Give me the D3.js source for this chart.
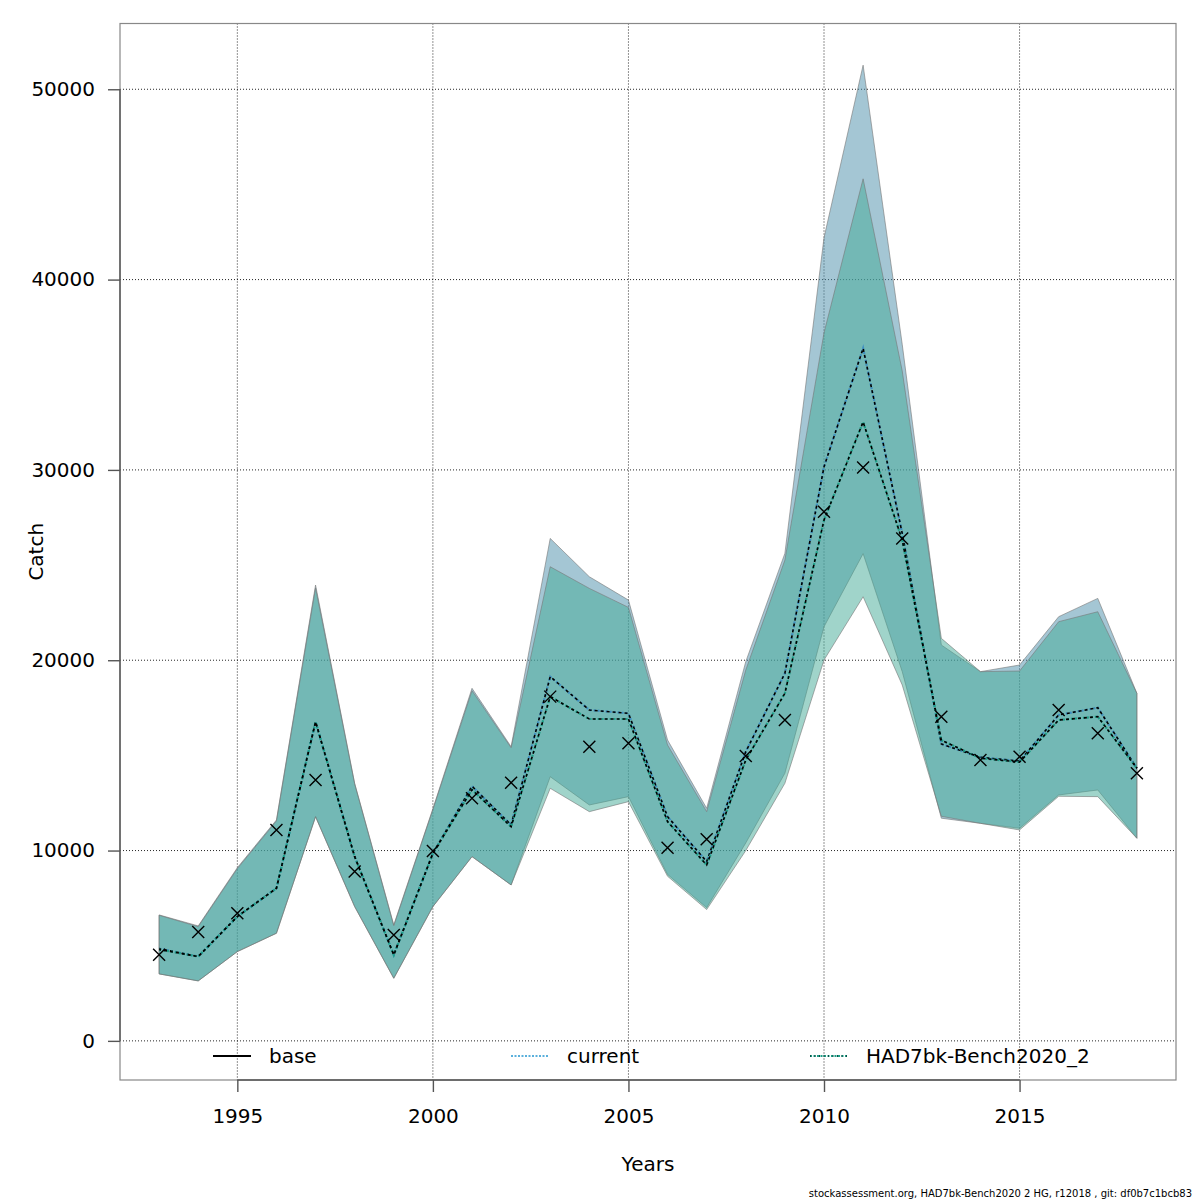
<!DOCTYPE html>
<html>
<head>
<meta charset="utf-8">
<script src="https://cdn.jsdelivr.net/npm/d3@7"></script>
<style>
    body { margin: 0; background: #fff; }
    text { font-family: "DejaVu Sans", sans-serif; fill: #000; }
</style>
</head>
<body>
<main></main>
<script>
// data
const years = [1993, 1994, 1995, 1996, 1997, 1998, 1999, 2000, 2001, 2002, 2003, 2004, 2005,
               2006, 2007, 2008, 2009, 2010, 2011, 2012, 2013, 2014, 2015, 2016, 2017, 2018]

const observed = [4520, 5725, 6706, 11082, 13708, 8893, 5567, 9979, 12745, 13566, 18088, 15457, 15634,
                  10153, 10593, 14968, 16859, 27800, 30130, 26400, 17035, 14758, 14934, 17384, 16160, 14060]

const currentMid = [4850, 4430, 6530, 8018, 16770, 9681, 4517, 9856, 13380, 11350, 19138, 17384, 17210,
                    11780, 9418, 15195, 19312, 30160, 36390, 26665, 15600, 14900, 14700, 17122, 17507, 14322]
const currentHigh = [6618, 6040, 9100, 11607, 23950, 13533, 6092, 12200, 18524, 15457, 26400, 24387, 23162,
                     15809, 12220, 19926, 25613, 42200, 51266, 36600, 20800, 19400, 19748, 22287, 23250, 18262]
const currentLow = [3519, 3151, 4690, 5655, 11780, 7055, 3291, 7055, 9681, 8193, 13881, 12395, 12833,
                    8745, 7000, 10400, 14060, 21760, 25600, 19400, 11700, 11430, 11170, 12920, 13183, 10646]

const benchMid = [4800, 4430, 6530, 8018, 16770, 9681, 4517, 9856, 13200, 11250, 18088, 16912, 16912,
                  11518, 9244, 14758, 18262, 27364, 32520, 26313, 15800, 14850, 14650, 16859, 17035, 14322]
const benchHigh = [6600, 6000, 9050, 11550, 23800, 13500, 6050, 12150, 18400, 15400, 24912, 23775, 22777,
                   15546, 12045, 19485, 25262, 37200, 45296, 35200, 21150, 19400, 19433, 22024, 22549, 18262]
const benchLow = [3519, 3151, 4690, 5655, 11780, 7055, 3291, 7055, 9681, 8193, 13270, 12044, 12570,
                  8650, 6900, 10000, 13533, 20010, 23336, 18700, 11800, 11430, 11083, 12850, 12833, 10646]

const xTicks = [1995, 2000, 2005, 2010, 2015]
const yTicks = [0, 10000, 20000, 30000, 40000, 50000]
const legendNames = ['base', 'current', 'HAD7bk-Bench2020_2']
const footer = 'stockassessment.org, HAD7bk-Bench2020 2 HG, r12018 , git: df0b7c1bcb83'

// sizes
const sizeOfSVG = { width: 1200, height: 1200 }
const box = { left: 120, right: 1176, top: 23.5, bottom: 1080 }

const svg = d3.select('main')
    .append('svg')
    .attr('width', sizeOfSVG.width)
    .attr('height', sizeOfSVG.height)

// scales (R style 4% padding)
const xScale = d3.scaleLinear().domain([1992, 2019]).range([box.left, box.right])
const yScale = d3.scaleLinear().domain([-2056, 53456]).range([box.bottom, box.top])

const rows = years.map((y, i) => ({
    year: y, obs: observed[i],
    cMid: currentMid[i], cHi: currentHigh[i], cLo: currentLow[i],
    bMid: benchMid[i], bHi: benchHigh[i], bLo: benchLow[i]
}))

// grid
svg.append('g').selectAll('line')
    .data(xTicks)
    .enter().append('line')
    .attr('x1', d => xScale(d)).attr('x2', d => xScale(d))
    .attr('y1', box.top).attr('y2', box.bottom)
    .attr('stroke', '#000').attr('stroke-width', 1)
    .attr('stroke-dasharray', '1,2').attr('opacity', 0.85)

svg.append('g').selectAll('line')
    .data(yTicks)
    .enter().append('line')
    .attr('x1', box.left).attr('x2', box.right)
    .attr('y1', d => yScale(d)).attr('y2', d => yScale(d))
    .attr('stroke', '#000').attr('stroke-width', 1)
    .attr('stroke-dasharray', '1,2').attr('opacity', 0.85)

// confidence bands
const band = (hi, lo) => d3.area()
    .x(d => xScale(d.year))
    .y0(d => yScale(d[lo]))
    .y1(d => yScale(d[hi]))

svg.append('path')
    .datum(rows)
    .attr('d', band('cHi', 'cLo'))
    .attr('fill', 'rgb(73,141,169)').attr('fill-opacity', 0.5)
    .attr('stroke', '#777').attr('stroke-opacity', 0.6).attr('stroke-width', 1)

svg.append('path')
    .datum(rows)
    .attr('d', band('bHi', 'bLo'))
    .attr('fill', 'rgb(65,169,149)').attr('fill-opacity', 0.5)
    .attr('stroke', '#777').attr('stroke-opacity', 0.6).attr('stroke-width', 1)

// estimate lines: coloured dotted line with black dashes on top
const midLine = key => d3.line()
    .x(d => xScale(d.year))
    .y(d => yScale(d[key]))

const drawMid = (key, colour) => {
    svg.append('path').datum(rows)
        .attr('d', midLine(key))
        .attr('fill', 'none').attr('stroke', colour).attr('stroke-width', 2.2)
        .attr('stroke-dasharray', '2,2')
    svg.append('path').datum(rows)
        .attr('d', midLine(key))
        .attr('fill', 'none').attr('stroke', '#000').attr('stroke-width', 1.6)
        .attr('stroke-dasharray', '3,3').attr('stroke-dashoffset', 1)
}
drawMid('cMid', '#3f8fc0')
drawMid('bMid', '#1fa088')

// observations
svg.append('g').selectAll('path')
    .data(rows)
    .enter().append('path')
    .attr('d', d => {
        const x = xScale(d.year), y = yScale(d.obs), r = 6
        return `M${x - r},${y - r}L${x + r},${y + r}M${x - r},${y + r}L${x + r},${y - r}`
    })
    .attr('stroke', '#000').attr('stroke-width', 1.4).attr('fill', 'none')

// box
svg.append('rect')
    .attr('x', box.left).attr('y', box.top)
    .attr('width', box.right - box.left).attr('height', box.bottom - box.top)
    .attr('fill', 'none').attr('stroke', '#888').attr('stroke-width', 1.2)

// axes
const xAxis = d3.axisBottom(xScale)
    .tickValues(xTicks).tickFormat(d3.format('d'))
    .tickSize(12).tickPadding(17)
const yAxis = d3.axisLeft(yScale)
    .tickValues(yTicks).tickFormat(d3.format('d'))
    .tickSize(12).tickPadding(13)

const gx = svg.append('g')
    .attr('transform', `translate(0,${box.bottom})`)
    .call(xAxis)
gx.select('.domain').remove()
gx.append('line')
    .attr('x1', xScale(xTicks[0])).attr('x2', xScale(xTicks[xTicks.length - 1]))
    .attr('stroke', '#555').attr('stroke-width', 1.4)

const gy = svg.append('g')
    .attr('transform', `translate(${box.left},0)`)
    .call(yAxis)
gy.select('.domain').remove()
gy.append('line')
    .attr('y1', yScale(yTicks[0])).attr('y2', yScale(yTicks[yTicks.length - 1]))
    .attr('stroke', '#555').attr('stroke-width', 1.4)

svg.selectAll('.tick line').attr('stroke', '#555').attr('stroke-width', 1.4)
svg.selectAll('.tick text')
    .style('font-family', '"DejaVu Sans", sans-serif')
    .style('font-size', '20px').attr('fill', '#000')

// axis labels
svg.append('text')
    .attr('x', (box.left + box.right) / 2)
    .attr('y', 1171)
    .attr('text-anchor', 'middle')
    .style('font-size', '20px')
    .text('Years')

svg.append('text')
    .attr('transform', `translate(43,${(box.top + box.bottom) / 2}) rotate(-90)`)
    .attr('text-anchor', 'middle')
    .style('font-size', '20px')
    .text('Catch')

// legend
const legendX = [213, 511, 810]
const legend = svg.append('g').selectAll('g')
    .data(legendNames)
    .enter().append('g')
    .attr('transform', (d, i) => `translate(${legendX[i]},1056)`)

legend.append('line')
    .attr('x1', 0).attr('x2', 38)
    .attr('stroke', (d, i) => ['#000', '#5ab0dc', '#1fa088'][i])
    .attr('stroke-width', 2)
    .attr('stroke-dasharray', (d, i) => i === 0 ? null : '2,1.5')
legend.filter((d, i) => i === 2).append('line')
    .attr('x1', 0).attr('x2', 38)
    .attr('stroke', '#0b4f44').attr('stroke-width', 2)
    .attr('stroke-dasharray', '1,3.5')
legend.append('text')
    .attr('x', 56).attr('y', 7)
    .style('font-size', '20px')
    .text(d => d)

// footer
svg.append('text')
    .attr('x', 1192).attr('y', 1197)
    .attr('text-anchor', 'end')
    .style('font-size', '10px')
    .text(footer)
</script>
</body>
</html>
